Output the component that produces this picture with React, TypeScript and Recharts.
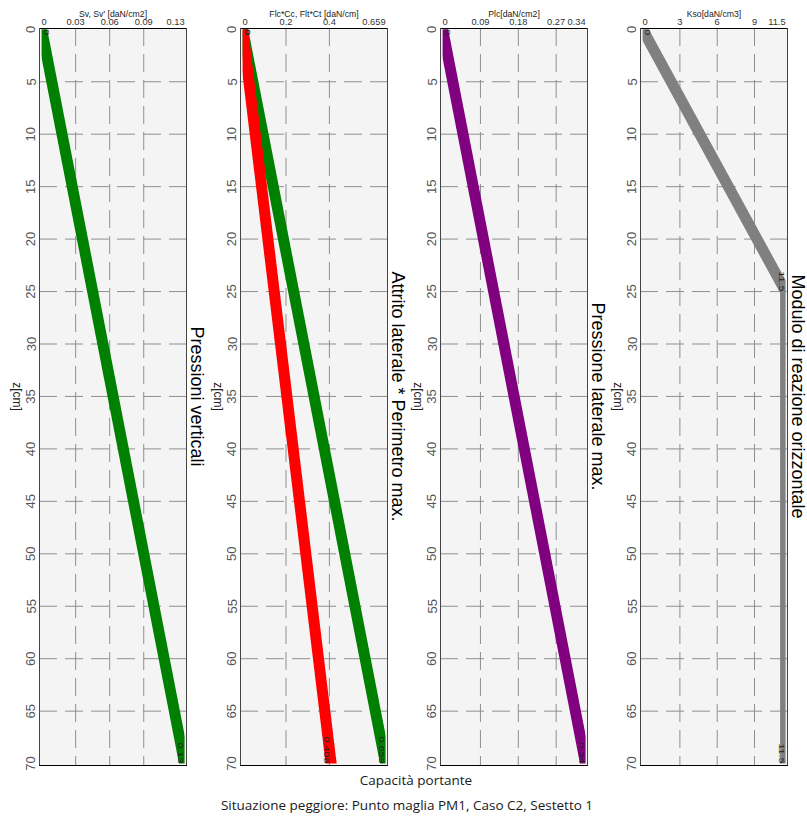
import React from "react";
import { LineChart, Line, XAxis, YAxis, CartesianGrid, LabelList } from "recharts";

// depth axis (z in cm), shared by all four panels
const depthTicks = [0, 5, 10, 15, 20, 25, 30, 35, 40, 45, 50, 55, 60, 65, 70];
const depthGrid = [5, 10, 15, 20, 25, 30, 35, 40, 45, 50, 55, 60, 65];

// Pressioni verticali
const svDepth = [0, 70];
const svValues = [0, 0.126];
const svTicks = [0, 0.03, 0.06, 0.09, 0.126];
const svTickLabels = ["0", "0.03", "0.06", "0.09", "0.13"];

// Attrito laterale * Perimetro max.
const flDepth = [0, 70];
const fltValues = [0, 0.659];
const flcValues = [0, 0.408];
const flTicks = [0, 0.2, 0.4, 0.659];
const flTickLabels = ["0", "0.2", "0.4", "0.659"];

// Pressione laterale max.
const plcDepth = [0, 70];
const plcValues = [0, 0.34];
const plcTicks = [0, 0.09, 0.18, 0.27, 0.34];
const plcTickLabels = ["0", "0.09", "0.18", "0.27", "0.34"];

// Modulo di reazione orizzontale
const ksoDepth = [0, 25, 70];
const ksoValues = [0, 11.5, 11.5];
const ksoTicks = [0, 3, 6, 9, 11.5];
const ksoTickLabels = ["0", "3", "6", "9", "11.5"];

const axisTitles = ["Sv, Sv' [daN/cm2]", "Flc*Cc, Flt*Ct [daN/cm]", "Plc[daN/cm2]", "Kso[daN/cm3]"];
const panelTitles = [
  "Pressioni verticali",
  "Attrito laterale * Perimetro max.",
  "Pressione laterale max.",
  "Modulo di reazione orizzontale",
];

const FONT = "'Liberation Sans', Arial, sans-serif";
const PLOT_TOP = 28;
const PLOT_H = 737;
const PLOT_W = 148;
const MID_Y = PLOT_TOP + PLOT_H / 2;
const panelLefts = [39, 240, 440, 640];

const svData = svDepth.map((z, i) => ({ z, sv: svValues[i] }));
const flData = flDepth.map((z, i) => ({ z, flt: fltValues[i], flc: flcValues[i] }));
const plcData = plcDepth.map((z, i) => ({ z, plc: plcValues[i] }));
const ksoData = ksoDepth.map((z, i) => ({ z, kso: ksoValues[i] }));

type Series = { key: string; color: string; digits: number };

const pointLabel = (digits: number) => (props: any) => {
  const x = props.x ?? props.viewBox?.x;
  const y = props.y ?? props.viewBox?.y;
  if (x == null || y == null) return null;
  const first = props.index === 0;
  const v = Number(props.value);
  return (
    <text
      transform={`translate(${x + (first ? 5 : -4)},${y}) rotate(90) scale(1.35,1)`}
      textAnchor={first ? "start" : "end"}
      dominantBaseline="central"
      fontSize={8}
      fontFamily={FONT}
      fill="#222"
    >
      {v === 0 ? "0" : v.toFixed(digits)}
    </text>
  );
};

function Panel({
  left,
  data,
  series,
  ticks,
  tickLabels,
}: {
  left: number;
  data: any[];
  series: Series[];
  ticks: number[];
  tickLabels: string[];
}) {
  const max = ticks[ticks.length - 1];
  const topTick = (p: any) => {
    const i = ticks.indexOf(p.payload.value);
    const anchor = i === 0 ? "start" : i === ticks.length - 1 ? "end" : "middle";
    return (
      <text x={p.x} y={p.y} textAnchor={anchor} fontSize={9.3} fontFamily={FONT} fill="#333">
        {tickLabels[i]}
      </text>
    );
  };
  const depthTick = (p: any) => (
    <text
      transform={`rotate(-90 ${p.x} ${p.y})`}
      x={p.x}
      y={p.y}
      textAnchor="middle"
      dominantBaseline="central"
      fontSize={13}
      fontFamily={FONT}
      fill="#555"
    >
      {p.payload.value}
    </text>
  );
  return (
    <div style={{ position: "absolute", left: left - 30, top: 0 }}>
      <LineChart
        width={30 + PLOT_W + 2}
        height={PLOT_TOP + PLOT_H + 25}
        layout="vertical"
        data={data}
        margin={{ top: PLOT_TOP - 1, right: 2, bottom: 25, left: 29 }}
      >
        <CartesianGrid
          fill="#f4f4f4"
          stroke="#8f8f8f"
          strokeDasharray="18 8"
          horizontalValues={depthGrid}
          verticalValues={ticks.slice(1, -1)}
        />
        <XAxis
          type="number"
          orientation="top"
          domain={[0, max]}
          ticks={ticks}
          interval={0}
          allowDataOverflow
          height={1}
          axisLine={false}
          tickLine={false}
          tickSize={0}
          tickMargin={3}
          padding={{ left: 2.6, right: 2.4 }}
          tick={topTick}
        />
        <YAxis
          type="number"
          dataKey="z"
          domain={[0, 70]}
          ticks={depthTicks}
          interval={0}
          allowDataOverflow
          width={1}
          axisLine={false}
          tickLine={false}
          tickSize={0}
          tickMargin={8}
          padding={{ top: 1.3, bottom: 1.4 }}
          tick={depthTick}
        />
        {series.map((s) => (
          <Line
            key={s.key}
            dataKey={s.key}
            stroke={s.color}
            strokeWidth={11}
            strokeLinecap="square"
            strokeLinejoin="round"
            dot={false}
            isAnimationActive={false}
          >
            <LabelList dataKey={s.key} content={pointLabel(s.digits)} />
          </Line>
        ))}
      </LineChart>
    </div>
  );
}

export default function App() {
  return (
    <div
      style={{
        position: "absolute",
        left: 0,
        top: 0,
        width: 807,
        height: 816,
        overflow: "hidden",
        background: "#fff",
      }}
    >
      <Panel
        left={panelLefts[0]}
        data={svData}
        series={[{ key: "sv", color: "#008000", digits: 2 }]}
        ticks={svTicks}
        tickLabels={svTickLabels}
      />
      <Panel
        left={panelLefts[1]}
        data={flData}
        series={[
          { key: "flt", color: "#008000", digits: 3 },
          { key: "flc", color: "#ff0000", digits: 3 },
        ]}
        ticks={flTicks}
        tickLabels={flTickLabels}
      />
      <Panel
        left={panelLefts[2]}
        data={plcData}
        series={[{ key: "plc", color: "#800080", digits: 2 }]}
        ticks={plcTicks}
        tickLabels={plcTickLabels}
      />
      <Panel
        left={panelLefts[3]}
        data={ksoData}
        series={[{ key: "kso", color: "#808080", digits: 1 }]}
        ticks={ksoTicks}
        tickLabels={ksoTickLabels}
      />

      {/* frames, titles and captions */}
      <svg
        width={807}
        height={816}
        style={{ position: "absolute", left: 0, top: 0, pointerEvents: "none" }}
      >
        {panelLefts.map((l, i) => (
          <g key={i}>
            <line x1={l} x2={l + PLOT_W} y1={PLOT_TOP + 0.5} y2={PLOT_TOP + 0.5} stroke="#000" />
            <line x1={l} x2={l + PLOT_W} y1={PLOT_TOP + PLOT_H + 0.5} y2={PLOT_TOP + PLOT_H + 0.5} stroke="#000" />
            <line x1={l + 0.5} x2={l + 0.5} y1={PLOT_TOP} y2={PLOT_TOP + PLOT_H} stroke="#444" />
            <line x1={l + PLOT_W - 0.5} x2={l + PLOT_W - 0.5} y1={PLOT_TOP} y2={PLOT_TOP + PLOT_H} stroke="#444" />
            <text
              x={l + PLOT_W / 2}
              y={16.5}
              textAnchor="middle"
              fontSize={8.7}
              fontFamily={FONT}
              fill="#222"
            >
              {axisTitles[i]}
            </text>
            <text
              transform={`translate(${l - 22},${MID_Y}) rotate(90)`}
              textAnchor="middle"
              dominantBaseline="central"
              fontSize={12}
              fontFamily={FONT}
              fill="#222"
            >
              z[cm]
            </text>
            <text
              transform={`translate(${l + PLOT_W + 10},${MID_Y}) rotate(90)`}
              textAnchor="middle"
              dominantBaseline="central"
              fontSize={18}
              fontFamily={FONT}
              fill="#000"
            >
              {panelTitles[i]}
            </text>
          </g>
        ))}
        <text x={416} y={785} textAnchor="middle" fontSize={13.5} fontFamily="'Open Sans', sans-serif" fill="#1a1a1a">
          Capacità portante
        </text>
        <text x={407} y={810} textAnchor="middle" fontSize={13.5} fontFamily="'Open Sans', sans-serif" fill="#1a1a1a">
          Situazione peggiore: Punto maglia PM1, Caso C2, Sestetto 1
        </text>
      </svg>
    </div>
  );
}
